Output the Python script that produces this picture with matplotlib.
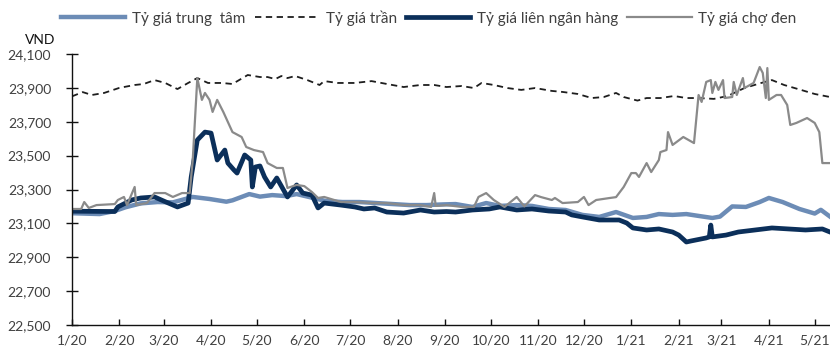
import matplotlib
matplotlib.use("Agg")
import matplotlib.pyplot as plt
import pandas as pd
from matplotlib.ticker import FixedLocator, FuncFormatter

plt.rcParams['font.family'] = ['Lato', 'Noto Sans', 'DejaVu Sans']

# ---- data (VND per USD) ----
ceiling_dates = ["2020-01-01", "2020-01-08", "2020-01-14", "2020-01-22", "2020-02-01", "2020-02-11",
                 "2020-02-17", "2020-02-24", "2020-03-02", "2020-03-10", "2020-03-17", "2020-03-23",
                 "2020-03-30", "2020-04-08", "2020-04-15", "2020-04-25", "2020-05-03", "2020-05-08",
                 "2020-05-13", "2020-05-17", "2020-05-21", "2020-05-26", "2020-06-03", "2020-06-11",
                 "2020-06-14", "2020-06-23", "2020-07-04", "2020-07-15", "2020-07-25", "2020-08-05",
                 "2020-08-16", "2020-08-25", "2020-09-02", "2020-09-12", "2020-09-20", "2020-09-25",
                 "2020-10-03", "2020-10-12", "2020-10-21", "2020-10-30", "2020-11-10", "2020-11-17",
                 "2020-11-27", "2020-12-06", "2020-12-14", "2020-12-22", "2020-12-27", "2021-01-05",
                 "2021-01-11", "2021-01-20", "2021-01-29", "2021-02-06", "2021-02-14", "2021-02-24",
                 "2021-03-05", "2021-03-16", "2021-03-27", "2021-04-03", "2021-04-11", "2021-04-22",
                 "2021-05-01", "2021-05-11"]
ceiling = [23850, 23875, 23858, 23870, 23900, 23917, 23923, 23946, 23929, 23893, 23929, 23958,
           23929, 23929, 23923, 23976, 23964, 23964, 23952, 23970, 23958, 23970, 23946, 23917,
           23940, 23929, 23929, 23940, 23923, 23905, 23917, 23917, 23905, 23911, 23899, 23929,
           23917, 23899, 23888, 23899, 23882, 23876, 23864, 23840, 23846, 23870, 23846, 23825,
           23840, 23840, 23852, 23840, 23840, 23835, 23852, 23899, 23929, 23946, 23917, 23888,
           23864, 23846]

central_dates = ["2020-01-01", "2020-01-19", "2020-01-29", "2020-02-05", "2020-02-15", "2020-02-26",
                 "2020-03-07", "2020-03-20", "2020-03-31", "2020-04-11", "2020-04-15", "2020-04-26",
                 "2020-05-03", "2020-05-11", "2020-05-20", "2020-05-27", "2020-06-04", "2020-06-15",
                 "2020-06-26", "2020-07-07", "2020-07-18", "2020-07-29", "2020-08-09", "2020-08-20",
                 "2020-08-31", "2020-09-08", "2020-09-19", "2020-09-28", "2020-10-07", "2020-10-18",
                 "2020-10-28", "2020-11-08", "2020-11-19", "2020-11-30", "2020-12-11", "2020-12-22",
                 "2021-01-02", "2021-01-11", "2021-01-19", "2021-01-28", "2021-02-06", "2021-02-14",
                 "2021-02-23", "2021-02-28", "2021-03-08", "2021-03-17", "2021-03-26", "2021-04-01",
                 "2021-04-10", "2021-04-21", "2021-05-01", "2021-05-05", "2021-05-11"]
central = [23160, 23155, 23173, 23195, 23218, 23226, 23224, 23256, 23244, 23228, 23236, 23273,
           23258, 23267, 23261, 23273, 23256, 23232, 23226, 23226, 23220, 23214, 23208, 23208,
           23212, 23214, 23197, 23220, 23203, 23208, 23203, 23185, 23179, 23150, 23138, 23167,
           23132, 23138, 23155, 23150, 23155, 23144, 23132, 23140, 23200, 23197, 23226, 23250,
           23226, 23185, 23158, 23180, 23140]

interbank_dates = ["2020-01-01", "2020-01-29", "2020-01-31", "2020-02-09", "2020-02-15", "2020-02-24",
                   "2020-03-02", "2020-03-10", "2020-03-17", "2020-03-19", "2020-03-23", "2020-03-28",
                   "2020-04-01", "2020-04-05", "2020-04-10", "2020-04-12", "2020-04-16", "2020-04-18",
                   "2020-04-23", "2020-04-27", "2020-04-28", "2020-04-30", "2020-05-03", "2020-05-06",
                   "2020-05-10", "2020-05-14", "2020-05-21", "2020-05-27", "2020-05-31", "2020-06-06",
                   "2020-06-10", "2020-06-14", "2020-06-25", "2020-07-04", "2020-07-10", "2020-07-17",
                   "2020-07-25", "2020-08-05", "2020-08-16", "2020-08-25", "2020-09-02", "2020-09-08",
                   "2020-09-19", "2020-09-30", "2020-10-07", "2020-10-18", "2020-10-28", "2020-11-08",
                   "2020-11-19", "2020-11-23", "2020-11-30", "2020-12-11", "2020-12-24", "2020-12-29",
                   "2021-01-02", "2021-01-11", "2021-01-19", "2021-01-28", "2021-02-01", "2021-02-06",
                   "2021-02-09", "2021-02-19", "2021-02-21", "2021-02-22", "2021-02-23", "2021-03-04",
                   "2021-03-12", "2021-03-23", "2021-04-03", "2021-04-14", "2021-04-25", "2021-05-06",
                   "2021-05-11"]
interbank = [23172, 23170, 23197, 23238, 23250, 23256, 23228, 23197, 23220, 23374, 23592, 23639,
             23633, 23474, 23533, 23456, 23415, 23397, 23504, 23474, 23315, 23433, 23439, 23374,
             23315, 23368, 23256, 23327, 23279, 23267, 23191, 23220, 23208, 23197, 23185, 23191,
             23167, 23161, 23179, 23167, 23170, 23167, 23179, 23185, 23197, 23179, 23185, 23173,
             23167, 23150, 23138, 23120, 23120, 23102, 23073, 23061, 23067, 23049, 23031, 22990,
             22996, 23014, 23020, 23090, 23020, 23031, 23049, 23061, 23073, 23067, 23061, 23067,
             23049]

black_dates = ["2020-01-01", "2020-01-07", "2020-01-09", "2020-01-12", "2020-01-17", "2020-01-29",
               "2020-01-31", "2020-02-04", "2020-02-06", "2020-02-11", "2020-02-12", "2020-02-19",
               "2020-02-24", "2020-03-02", "2020-03-07", "2020-03-13", "2020-03-18", "2020-03-20",
               "2020-03-23", "2020-03-26", "2020-03-28", "2020-03-31", "2020-04-02", "2020-04-05",
               "2020-04-09", "2020-04-15", "2020-04-21", "2020-04-24", "2020-04-29", "2020-05-05",
               "2020-05-08", "2020-05-14", "2020-05-18", "2020-05-21", "2020-05-27", "2020-06-01",
               "2020-06-06", "2020-06-10", "2020-06-14", "2020-06-25", "2020-07-04", "2020-07-15",
               "2020-07-25", "2020-08-05", "2020-08-16", "2020-08-23", "2020-08-25", "2020-08-26",
               "2020-09-02", "2020-09-12", "2020-09-20", "2020-09-23", "2020-09-28", "2020-10-03",
               "2020-10-10", "2020-10-18", "2020-10-23", "2020-10-30", "2020-11-03", "2020-11-10",
               "2020-11-12", "2020-11-17", "2020-11-27", "2020-12-01", "2020-12-04", "2020-12-09",
               "2020-12-18", "2020-12-22", "2020-12-27", "2021-01-01", "2021-01-04", "2021-01-06",
               "2021-01-11", "2021-01-14", "2021-01-19", "2021-01-20", "2021-01-24", "2021-01-25",
               "2021-01-28", "2021-02-04", "2021-02-11", "2021-02-14", "2021-02-16", "2021-02-19",
               "2021-02-22", "2021-02-23", "2021-02-25", "2021-02-27", "2021-03-02", "2021-03-03",
               "2021-03-08", "2021-03-09", "2021-03-11", "2021-03-15", "2021-03-16", "2021-03-22",
               "2021-03-26", "2021-03-28", "2021-03-30", "2021-03-31", "2021-04-01", "2021-04-06",
               "2021-04-09", "2021-04-13", "2021-04-15", "2021-04-19", "2021-04-26", "2021-05-01",
               "2021-05-04", "2021-05-06", "2021-05-11"]
black = [23185, 23185, 23226, 23191, 23208, 23214, 23238, 23256, 23208, 23315, 23208, 23220,
         23279, 23279, 23256, 23279, 23279, 23474, 23958, 23829, 23870, 23829, 23758, 23829,
         23758, 23639, 23610, 23551, 23533, 23521, 23456, 23427, 23427, 23309, 23327, 23320,
         23285, 23250, 23256, 23226, 23226, 23220, 23220, 23208, 23208, 23197, 23279, 23203,
         23208, 23197, 23197, 23256, 23279, 23238, 23197, 23256, 23200, 23267, 23255, 23238,
         23250, 23220, 23226, 23256, 23208, 23238, 23250, 23255, 23315, 23397, 23397, 23374,
         23456, 23403, 23474, 23521, 23533, 23639, 23563, 23610, 23574, 23858, 23817, 23935,
         23946, 23870, 23935, 23888, 23946, 23840, 23846, 23935, 23858, 23958, 23899, 23929,
         24023, 23988, 23840, 24017, 23829, 23858, 23858, 23799, 23681, 23693, 23722, 23693,
         23639, 23456, 23456]

month_ticks = ["2020-01-01", "2020-02-01", "2020-03-01", "2020-04-01", "2020-05-01", "2020-06-01",
               "2020-07-01", "2020-08-01", "2020-09-01", "2020-10-01", "2020-11-01", "2020-12-01",
               "2021-01-01", "2021-02-01", "2021-03-01", "2021-04-01", "2021-05-01"]
month_labels = ["1/20", "2/20", "3/20", "4/20", "5/20", "6/20", "7/20", "8/20", "9/20", "10/20",
                "11/20", "12/20", "1/21", "2/21", "3/21", "4/21", "5/21"]
y_ticks = [22500, 22700, 22900, 23100, 23300, 23500, 23700, 23900, 24100]

# ---- figure ----
fig = plt.figure(figsize=(8.30, 3.54), dpi=100)
ax = fig.add_axes([72 / 830, 29 / 354, 758 / 830, 271 / 354])

ax.plot(pd.to_datetime(central_dates), central, color='#6C8CB6', lw=3.2,
        solid_joinstyle='round', label='Tỷ giá trung  tâm')
ax.plot(pd.to_datetime(ceiling_dates), ceiling, color='#1E1E1E', lw=1.3,
        ls=(0, (3.5, 2.5)), label='Tỷ giá trần')
ax.plot(pd.to_datetime(interbank_dates), interbank, color='#0B2F5A', lw=3.4,
        solid_joinstyle='round', label='Tỷ giá liên ngân hàng')
ax.plot(pd.to_datetime(black_dates), black, color='#8A8A8A', lw=1.6,
        label='Tỷ giá chợ đen')

ax.set_ylim(22500, 24100)
ax.set_xlim(pd.Timestamp("2020-01-01"), pd.Timestamp("2021-05-11"))
ax.yaxis.set_major_locator(FixedLocator(y_ticks))
ax.yaxis.set_major_formatter(FuncFormatter(lambda v, p: f"{int(v):,}"))
ax.set_xticks(pd.to_datetime(month_ticks))
ax.set_xticklabels(month_labels)

for side in ("top", "right"):
    ax.spines[side].set_visible(False)
for side in ("left", "bottom"):
    ax.spines[side].set_linewidth(1.0)
    ax.spines[side].set_color('#111111')

ax.tick_params(axis='y', direction='inout', length=8, width=1.0, pad=11,
               labelsize=10, labelcolor='#404040', color='#111111')
ax.tick_params(axis='x', direction='in', length=4, width=1.0, pad=7,
               labelsize=10, labelcolor='#404040', color='#111111')

fig.text(40 / 830, 1 - 40 / 354, "VND", ha='center', va='center', fontsize=10, color='#111111')

fig.legend(loc='center left', bbox_to_anchor=(61 / 830, 1 - 18 / 354), ncol=4, frameon=False,
           handlelength=4.2, handletextpad=0.45, columnspacing=0.6, borderpad=0,
           borderaxespad=0, fontsize=11, labelcolor='#404040')

fig.savefig("out.png", dpi=100)
